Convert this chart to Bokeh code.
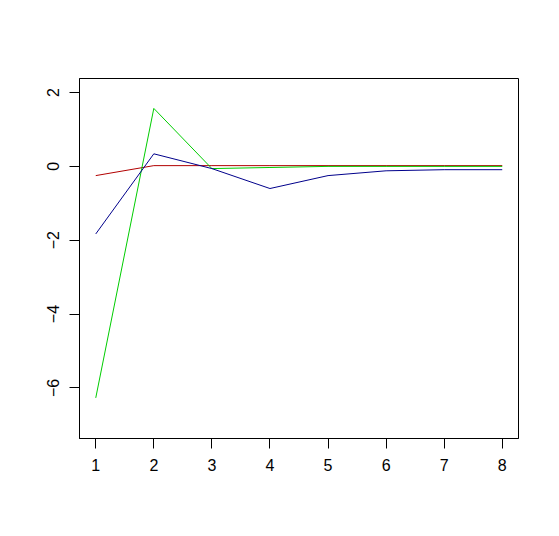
from bokeh.plotting import figure
from bokeh.models import FixedTicker, Range1d
from bokeh.embed import file_html
from bokeh.resources import INLINE

x = [1, 2, 3, 4, 5, 6, 7, 8]
red_vals = [-0.25, 0.02, 0.02, 0.02, 0.02, 0.02, 0.02, 0.02]
green_vals = [-6.27, 1.57, -0.06, -0.03, 0.0, 0.0, 0.0, 0.0]
blue_vals = [-1.83, 0.34, -0.06, -0.60, -0.25, -0.12, -0.09, -0.09]
x_ticks = [1, 2, 3, 4, 5, 6, 7, 8]
y_ticks = [-6, -4, -2, 0, 2]

p = figure(width=540, height=515, output_backend="svg", toolbar_location=None,
           x_range=Range1d(0.72, 8.28), y_range=Range1d(-7.37, 2.38),
           min_border_left=79, min_border_top=78, min_border_right=22, min_border_bottom=77)
p.background_fill_color = "white"
p.border_fill_color = "white"
p.outline_line_color = "black"
p.outline_line_width = 1
p.grid.visible = False

p.line(x, red_vals, line_color="#B20000", line_width=1)
p.line(x, green_vals, line_color="#00CD00", line_width=1)
p.line(x, blue_vals, line_color="#00008B", line_width=1)

for ax in (p.xaxis[0], p.yaxis[0]):
    ax.axis_line_color = "black"
    ax.major_tick_line_color = "black"
    ax.major_tick_in = 0
    ax.major_tick_out = 10
    ax.minor_tick_line_color = None
    ax.major_label_text_font = "Liberation Sans"
    ax.major_label_text_font_size = "16px"
    ax.major_label_text_color = "black"
    ax.major_label_standoff = 10

p.xaxis[0].ticker = FixedTicker(ticks=x_ticks)
p.yaxis[0].ticker = FixedTicker(ticks=y_ticks)
p.yaxis[0].major_label_orientation = "parallel"

open("out.html", "w").write(file_html(p, INLINE))
